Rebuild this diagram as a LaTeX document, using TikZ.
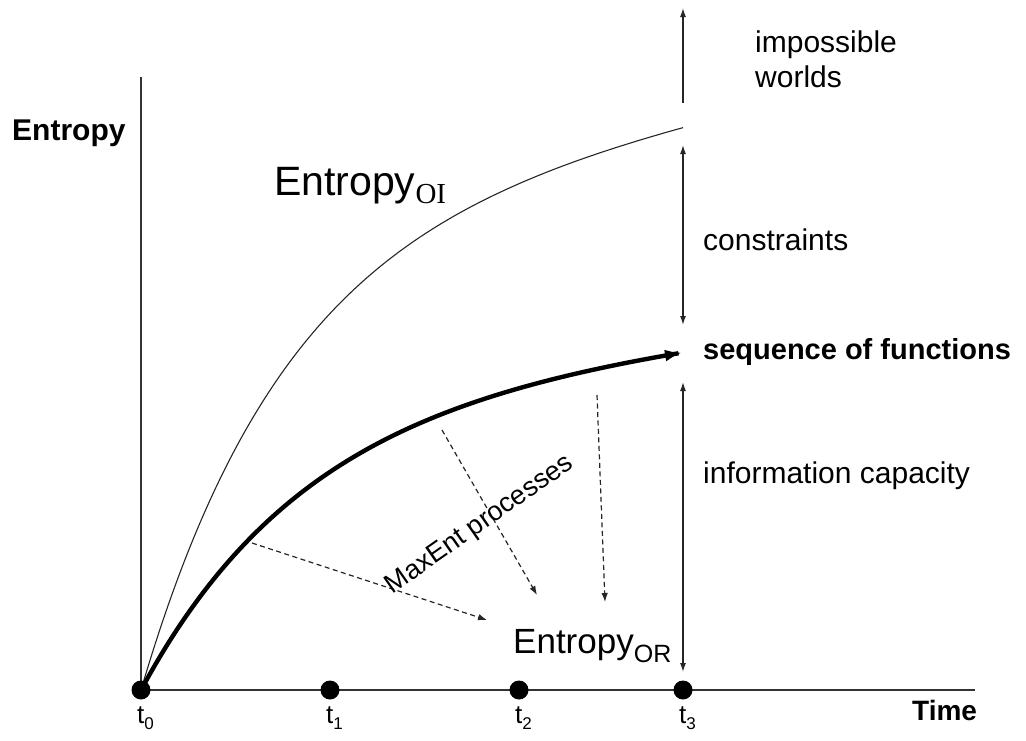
\documentclass[tikz,border=0pt]{standalone}
\usepackage{fontspec}
\setmainfont{Liberation Sans}
\newfontfamily\serifsub{Liberation Serif}
\usetikzlibrary{arrows.meta}
\begin{document}
\begin{tikzpicture}[x=1pt,y=-1pt,
  axis/.style={draw=black!80, line width=1.4pt},
  thincurve/.style={draw=black!85, line width=1.1pt},
  thickcurve/.style={draw=black, line width=4.4pt, -{Latex[length=17pt,width=12pt]}},
  vbar/.style={draw=black!85, line width=1.4pt},
  dasharrow/.style={draw=black!85, line width=1.2pt, dash pattern=on 5pt off 3.5pt, -{Latex[length=9pt,width=6.5pt]}},
  dot/.style={circle, fill=black, inner sep=0pt, minimum size=19pt},
  lbl/.style={anchor=base west, inner sep=0pt, font=\fontsize{30}{35}\selectfont},
  blbl/.style={anchor=base west, inner sep=0pt, font=\bfseries\fontsize{30}{35}\selectfont},
  tlab/.style={anchor=base west, inner sep=0pt, font=\fontsize{26}{26}\selectfont}]
\useasboundingbox (0,0) rectangle (1026,740);
\fill[white] (0,0) rectangle (1026,740);

% axes
\coordinate (ytop) at (141,77);
\coordinate (xend) at (975,690);
\coordinate (org) at (141,690);
\draw[axis] (ytop) -- (org) -- (xend);

% curves
\draw[thincurve] plot[domain=0:542, samples=120, smooth] ({141+\x},{690-465*(1-exp(-\x/145))-0.2*\x});
\draw[thickcurve] plot[domain=0:541, samples=120, smooth] ({141+\x},{690-295*(1-exp(-\x/168))-0.1*\x});

\node[dot] (t0) at (141,690) {};
\node[dot] (t1) at (330,690) {};
\node[dot] (t2) at (519,690) {};
\node[dot] (t3) at (683,690) {};

% vertical arrows at t3
\coordinate (a1) at (683,8);   \coordinate (a2) at (683,103);
\coordinate (b1) at (683,145); \coordinate (b2) at (683,325);
\coordinate (c1) at (683,382); \coordinate (c2) at (683,672);
\draw[vbar, {Latex[length=9pt,width=6pt]}-] (a1) -- (a2);
\draw[vbar, {Latex[length=9pt,width=6pt]}-{Latex[length=9pt,width=6pt]}] (b1) -- (b2);
\draw[vbar, {Latex[length=9pt,width=6pt]}-{Latex[length=9pt,width=6pt]}] (c1) -- (c2);

% dashed MaxEnt arrows
\coordinate (d1s) at (252,543); \coordinate (d1e) at (487,620);
\coordinate (d2s) at (442,430); \coordinate (d2e) at (537,595);
\coordinate (d3s) at (597,395); \coordinate (d3e) at (605,602);
\draw[dasharrow] (d1s) -- (d1e);
\draw[dasharrow] (d2s) -- (d2e);
\draw[dasharrow] (d3s) -- (d3e);

% labels
\node[blbl] (yl) at (12,140) {Entropy};
\node[anchor=base west, inner sep=0pt, font=\bfseries\fontsize{28}{28}\selectfont] (xl) at (912,720) {Time};
\node[anchor=base west, inner sep=0pt] (eoi) at (274,195) {\fontsize{41}{41}\selectfont Entropy\raisebox{-8pt}{\serifsub\fontsize{29}{29}\selectfont OI}};
\node[anchor=base west, inner sep=0pt] (eor) at (513,653) {\fontsize{35}{35}\selectfont Entropy\raisebox{-9pt}{\fontsize{25}{25}\selectfont OR}};
\node[lbl] (imp) at (755,52) {impossible};
\node[lbl] (wor) at (755,87) {worlds};
\node[lbl] (con) at (703,250) {constraints};
\node[blbl, font=\bfseries\fontsize{29}{35}\selectfont] (seq) at (703,359) {sequence of functions};
\node[lbl] (inf) at (703,483) {information capacity};
\node[inner sep=0pt, rotate=35, font=\fontsize{27}{27}\selectfont] (mx) at (480,525) {MaxEnt processes};

\node[tlab] (l0) at (137,723) {t\raisebox{-6pt}{\fontsize{17}{17}\selectfont 0}};
\node[tlab] (l1) at (326,723) {t\raisebox{-6pt}{\fontsize{17}{17}\selectfont 1}};
\node[tlab] (l2) at (515,723) {t\raisebox{-6pt}{\fontsize{17}{17}\selectfont 2}};
\node[tlab] (l3) at (679,723) {t\raisebox{-6pt}{\fontsize{17}{17}\selectfont 3}};
\end{tikzpicture}
\end{document}
